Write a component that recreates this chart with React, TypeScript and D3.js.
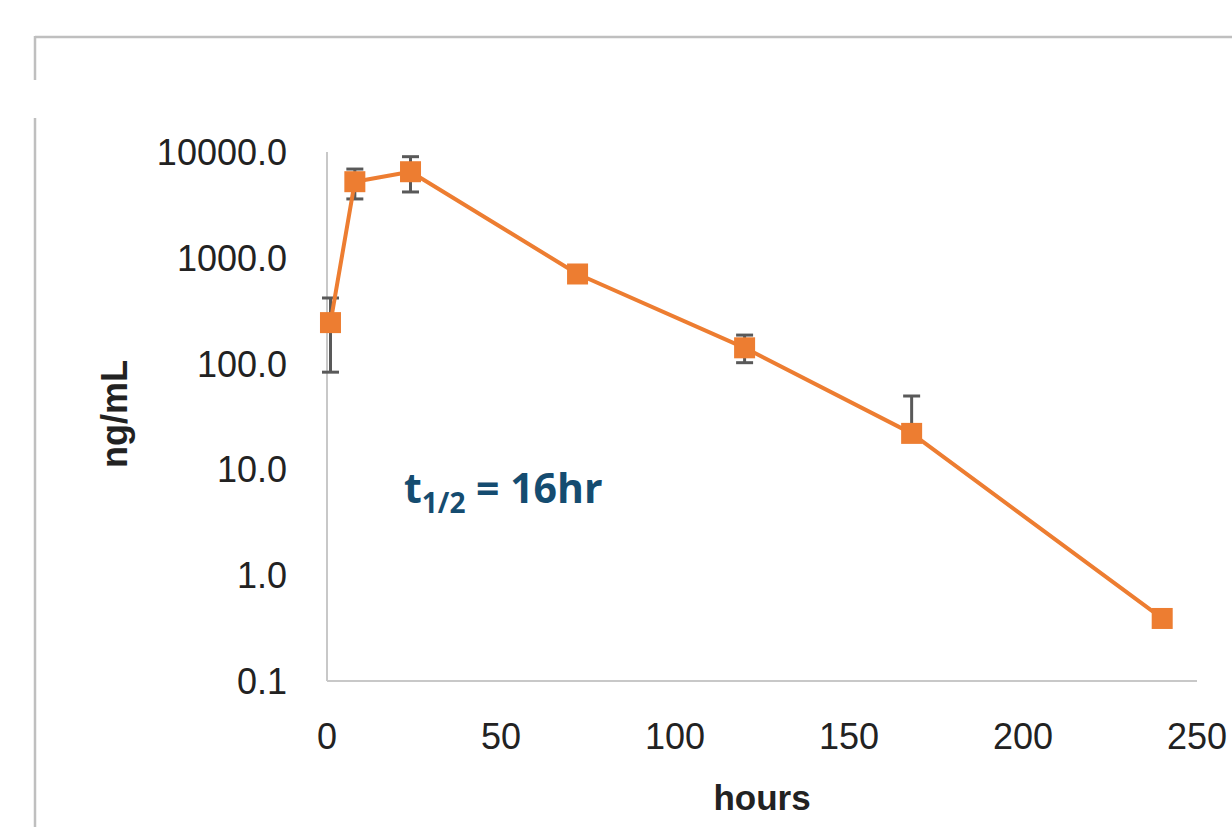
import * as d3 from "d3"

const HOURS = [1, 8, 24, 72, 120, 168, 240]
const CONC = [244, 5240, 6510, 703, 141, 21.9, 0.39]
const ERR_HIGH: (number | null)[] = [417, 6900, 9030, null, 186, 49.4, null]
const ERR_LOW: (number | null)[] = [83, 3600, 4190, null, 102, null, null]

const X_TICKS = [0, 50, 100, 150, 200, 250]
const Y_TICKS = [0.1, 1, 10, 100, 1000, 10000]

const ORANGE = "#ED7D31"
const ERR_COLOR = "#595959"
const AXIS_COLOR = "#c8c8c8"
const TEXT_FONT = "'Liberation Sans', Arial, sans-serif"

export default function App() {
  const x = d3.scaleLinear().domain([0, 250]).range([327, 1197])
  const y = d3.scaleLog().domain([0.1, 10000]).range([681, 152])
  const fmt = d3.format(".1f")

  const pts = HOURS.map((h, i) => [h, CONC[i]] as [number, number])
  const line = d3.line<[number, number]>().x((d) => x(d[0])).y((d) => y(d[1]))

  const cap = 8.5
  const size = 21

  return (
    <div style={{ position: "absolute", left: 0, top: 0 }}>
      <svg width={1232} height={827} style={{ display: "block", background: "#fff" }}>
        {/* frame */}
        <line x1={35} y1={37} x2={1232} y2={37} stroke="#bfbfbf" strokeWidth={2.5} />
        <line x1={35} y1={36} x2={35} y2={80} stroke="#bfbfbf" strokeWidth={2.5} />
        <line x1={35} y1={118} x2={35} y2={827} stroke="#bfbfbf" strokeWidth={2.5} />

        {/* axes */}
        <line x1={x(0)} y1={y(10000)} x2={x(0)} y2={y(0.1)} stroke={AXIS_COLOR} strokeWidth={2} />
        <line x1={x(0)} y1={y(0.1)} x2={x(250)} y2={y(0.1)} stroke={AXIS_COLOR} strokeWidth={2} />

        {Y_TICKS.map((t) => (
          <text key={t} x={287} y={y(t)} dy="0.36em" textAnchor="end" fontFamily={TEXT_FONT} fontSize={36} fill="#222">
            {fmt(t)}
          </text>
        ))}
        {X_TICKS.map((t) => (
          <text key={t} x={x(t)} y={749} textAnchor="middle" fontFamily={TEXT_FONT} fontSize={36} fill="#222">
            {t}
          </text>
        ))}

        <text x={762} y={810} textAnchor="middle" fontFamily={TEXT_FONT} fontSize={35} fontWeight="bold" fill="#222">
          hours
        </text>
        <text
          transform="translate(127,414) rotate(-90)"
          textAnchor="middle"
          fontFamily={TEXT_FONT}
          fontSize={36}
          fontWeight="bold"
          fill="#222"
        >
          ng/mL
        </text>

        {/* error bars */}
        {HOURS.map((h, i) => {
          const cx = x(h)
          const hi = ERR_HIGH[i]
          const lo = ERR_LOW[i]
          return (
            <g key={h} stroke={ERR_COLOR} strokeWidth={3}>
              {hi != null && (
                <>
                  <line x1={cx} x2={cx} y1={y(CONC[i])} y2={y(hi)} />
                  <line x1={cx - cap} x2={cx + cap} y1={y(hi)} y2={y(hi)} />
                </>
              )}
              {lo != null && (
                <>
                  <line x1={cx} x2={cx} y1={y(CONC[i])} y2={y(lo)} />
                  <line x1={cx - cap} x2={cx + cap} y1={y(lo)} y2={y(lo)} />
                </>
              )}
            </g>
          )
        })}

        <path d={line(pts) || ""} fill="none" stroke={ORANGE} strokeWidth={4} strokeLinejoin="round" />
        {pts.map((d) => (
          <rect key={d[0]} x={x(d[0]) - size / 2} y={y(d[1]) - size / 2} width={size} height={size} fill={ORANGE} />
        ))}

        {/* half-life note */}
        <text x={404} y={503} fontFamily="'Open Sans', sans-serif" fontWeight="bold" fontSize={41} fill="#154c70">
          t
          <tspan fontSize={28} dy={10}>1/2</tspan>
          <tspan dy={-10}> = 16hr</tspan>
        </text>
      </svg>
    </div>
  )
}
